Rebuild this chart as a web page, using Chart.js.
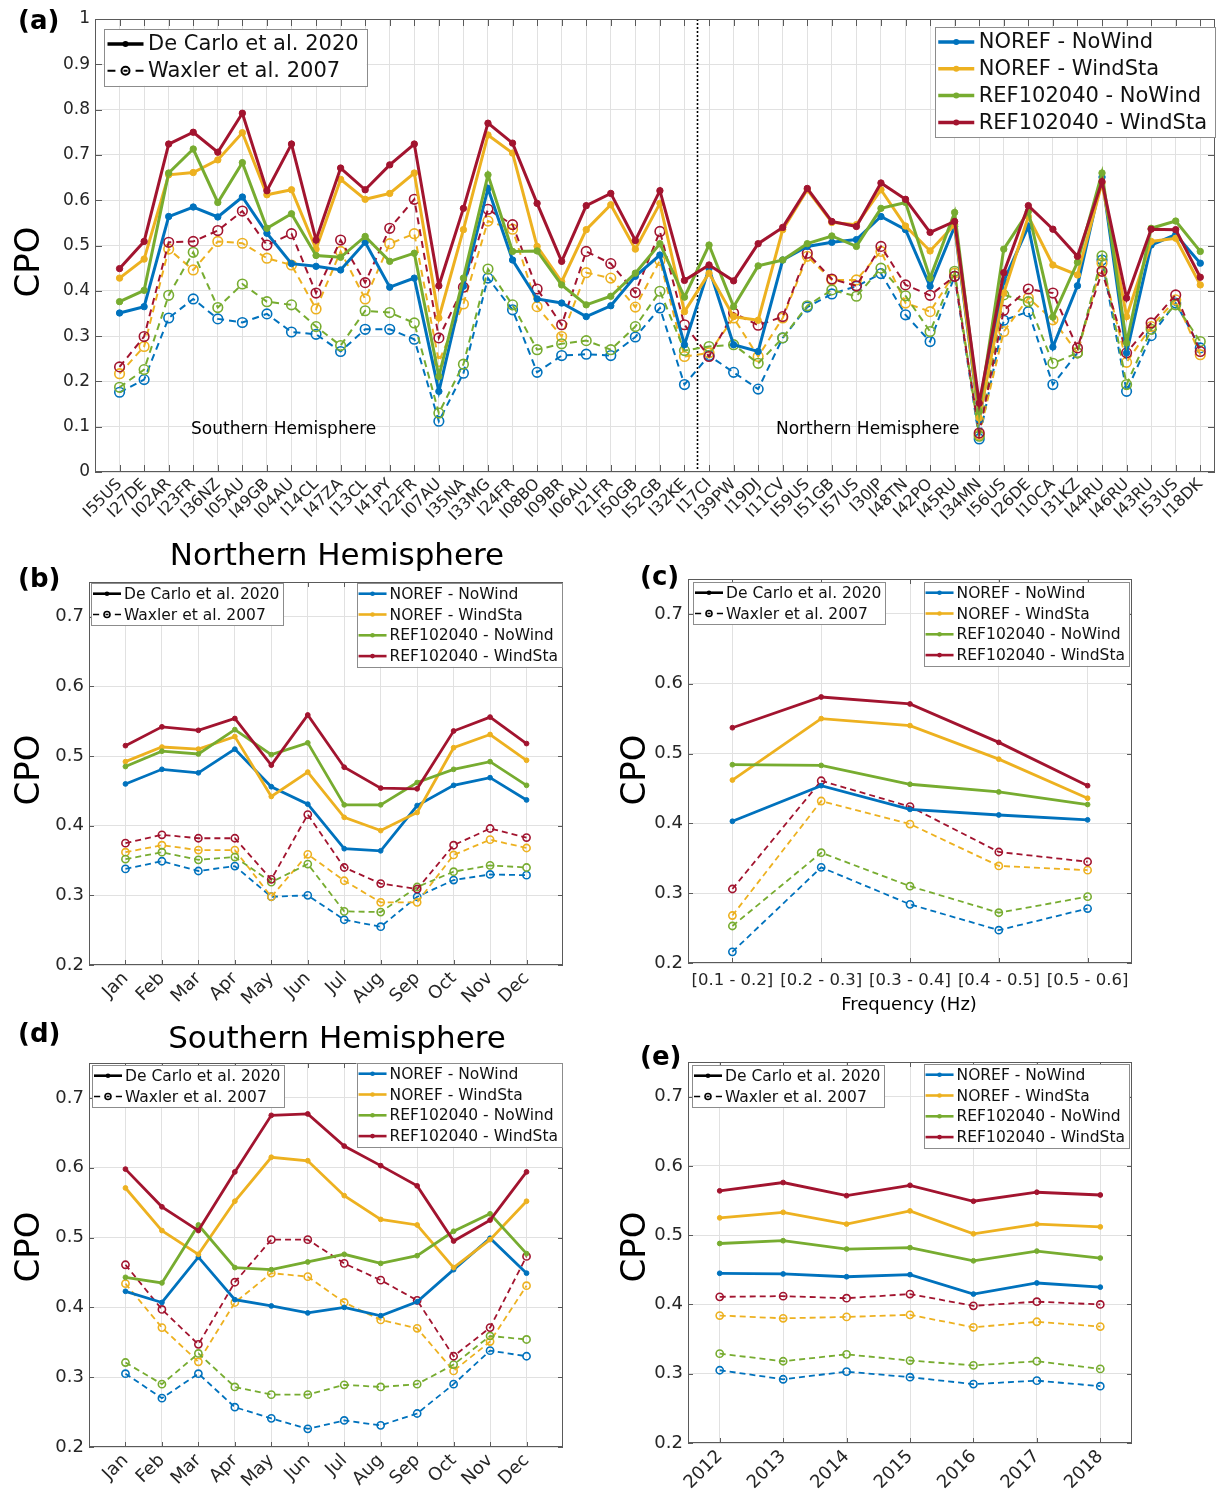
<!DOCTYPE html>
<html>
<head>
<meta charset="utf-8">
<title>CPO per station, month, frequency and year</title>
<script src="https://cdn.jsdelivr.net/npm/chart.js@4.4.1/dist/chart.umd.min.js"></script>
<style>
  html, body { margin: 0; padding: 0; background: #fff; }
  #page { position: relative; width: 1222px; height: 1495px; }
  canvas { position: absolute; }
</style>
</head>
<body>
<div id="page">
  <canvas id="pa" width="1222" height="535" style="left:0;top:0"></canvas>
  <canvas id="pb" width="600" height="485" style="left:0;top:535px"></canvas>
  <canvas id="pc" width="622" height="485" style="left:600px;top:535px"></canvas>
  <canvas id="pd" width="600" height="475" style="left:0;top:1020px"></canvas>
  <canvas id="pe" width="622" height="475" style="left:600px;top:1020px"></canvas>
</div>
<script>
// ---- data ----
const seriesNames = ['NOREF - NoWind', 'NOREF - WindSta', 'REF102040 - NoWind', 'REF102040 - WindSta'];
const refNames = ['De Carlo et al. 2020', 'Waxler et al. 2007'];

// (a) per station
const stations = ['I55US','I27DE','I02AR','I23FR','I36NZ','I05AU','I49GB','I04AU','I14CL','I47ZA','I13CL','I41PY','I22FR','I07AU','I35NA','I33MG','I24FR','I08BO','I09BR','I06AU','I21FR','I50GB','I52GB','I32KE','I17CI','I39PW','I19DJ','I11CV','I59US','I51GB','I57US','I30JP','I48TN','I42PO','I45RU','I34MN','I56US','I26DE','I10CA','I31KZ','I44RU','I46RU','I43RU','I53US','I18DK'];
const staNorefNoWind = [0.351,0.365,0.564,0.585,0.563,0.607,0.527,0.460,0.454,0.446,0.507,0.408,0.428,0.178,0.410,0.626,0.468,0.382,0.373,0.343,0.367,0.432,0.479,0.281,0.449,0.281,0.266,0.468,0.498,0.507,0.513,0.564,0.535,0.410,0.542,0.115,0.421,0.542,0.276,0.411,0.651,0.263,0.501,0.524,0.461];
const staNorefWindSta = [0.428,0.470,0.656,0.661,0.689,0.749,0.612,0.623,0.492,0.646,0.602,0.615,0.660,0.340,0.535,0.744,0.704,0.498,0.420,0.535,0.590,0.492,0.593,0.354,0.439,0.343,0.335,0.535,0.623,0.551,0.546,0.623,0.543,0.488,0.546,0.119,0.395,0.564,0.457,0.435,0.638,0.343,0.509,0.516,0.413];
const staRefNoWind = [0.376,0.401,0.660,0.713,0.595,0.683,0.538,0.570,0.478,0.474,0.520,0.465,0.483,0.211,0.428,0.656,0.487,0.488,0.413,0.369,0.388,0.439,0.504,0.386,0.501,0.365,0.455,0.468,0.504,0.521,0.498,0.582,0.595,0.428,0.573,0.134,0.492,0.575,0.342,0.463,0.660,0.285,0.538,0.554,0.487];
const staRefWindSta = [0.449,0.509,0.724,0.750,0.706,0.792,0.621,0.724,0.512,0.671,0.623,0.678,0.724,0.411,0.582,0.770,0.726,0.593,0.465,0.588,0.615,0.511,0.621,0.423,0.457,0.422,0.504,0.540,0.626,0.553,0.542,0.638,0.602,0.529,0.553,0.152,0.440,0.588,0.536,0.476,0.641,0.384,0.536,0.535,0.430];
const staWaxNorefNoWind = [0.176,0.204,0.340,0.382,0.338,0.330,0.349,0.309,0.304,0.266,0.315,0.315,0.293,0.112,0.218,0.428,0.358,0.220,0.257,0.260,0.257,0.298,0.362,0.193,0.257,0.220,0.183,0.296,0.364,0.393,0.410,0.438,0.347,0.288,0.432,0.073,0.335,0.354,0.193,0.263,0.468,0.178,0.301,0.373,0.274];
const staWaxNorefWindSta = [0.217,0.277,0.492,0.446,0.509,0.505,0.472,0.457,0.360,0.487,0.382,0.504,0.526,0.244,0.371,0.554,0.536,0.365,0.299,0.440,0.428,0.364,0.467,0.255,0.263,0.340,0.255,0.340,0.476,0.424,0.424,0.487,0.373,0.354,0.439,0.082,0.310,0.384,0.336,0.263,0.461,0.242,0.321,0.380,0.259];
const staWaxRefNoWind = [0.187,0.226,0.390,0.485,0.363,0.415,0.376,0.369,0.321,0.279,0.356,0.352,0.329,0.130,0.238,0.448,0.369,0.270,0.283,0.290,0.270,0.321,0.399,0.268,0.277,0.281,0.240,0.296,0.367,0.402,0.388,0.450,0.389,0.310,0.443,0.079,0.391,0.376,0.240,0.263,0.477,0.193,0.315,0.369,0.288];
const staWaxRefWindSta = [0.232,0.299,0.507,0.509,0.533,0.576,0.501,0.526,0.395,0.512,0.418,0.538,0.602,0.296,0.408,0.580,0.546,0.404,0.325,0.487,0.460,0.396,0.531,0.325,0.255,0.351,0.324,0.343,0.483,0.426,0.411,0.498,0.413,0.390,0.432,0.086,0.357,0.404,0.395,0.274,0.443,0.263,0.329,0.391,0.266];

// (b) Northern Hemisphere per month
const months = ['Jan','Feb','Mar','Apr','May','Jun','Jul','Aug','Sep','Oct','Nov','Dec'];
const nhNorefNoWind = [0.460,0.481,0.476,0.510,0.456,0.431,0.367,0.364,0.429,0.458,0.469,0.437];
const nhNorefWindSta = [0.492,0.513,0.510,0.528,0.442,0.477,0.412,0.393,0.419,0.512,0.531,0.494];
const nhRefNoWind = [0.485,0.507,0.503,0.538,0.502,0.519,0.430,0.430,0.462,0.481,0.492,0.458];
const nhRefWindSta = [0.515,0.542,0.537,0.554,0.487,0.559,0.484,0.454,0.453,0.536,0.556,0.518];
const nhWaxNorefNoWind = [0.338,0.349,0.335,0.342,0.298,0.300,0.265,0.255,0.298,0.322,0.330,0.329];
const nhWaxNorefWindSta = [0.362,0.372,0.365,0.365,0.298,0.359,0.321,0.290,0.290,0.358,0.380,0.368];
const nhWaxRefNoWind = [0.352,0.362,0.351,0.355,0.319,0.345,0.277,0.276,0.312,0.334,0.343,0.340];
const nhWaxRefWindSta = [0.375,0.387,0.382,0.382,0.323,0.416,0.340,0.317,0.309,0.372,0.396,0.383];

// (c) per frequency band
const freqBands = ['[0.1 - 0.2]','[0.2 - 0.3]','[0.3 - 0.4]','[0.4 - 0.5]','[0.5 - 0.6]'];
const fqNorefNoWind = [0.403,0.454,0.420,0.412,0.405];
const fqNorefWindSta = [0.462,0.550,0.540,0.492,0.436];
const fqRefNoWind = [0.484,0.483,0.456,0.445,0.427];
const fqRefWindSta = [0.537,0.581,0.571,0.516,0.454];
const fqWaxNorefNoWind = [0.216,0.337,0.284,0.247,0.278];
const fqWaxNorefWindSta = [0.268,0.432,0.399,0.339,0.333];
const fqWaxRefNoWind = [0.253,0.358,0.310,0.272,0.295];
const fqWaxRefWindSta = [0.306,0.461,0.424,0.359,0.345];

// (d) Southern Hemisphere per month
const shNorefNoWind = [0.423,0.407,0.472,0.411,0.402,0.392,0.400,0.388,0.408,0.454,0.499,0.449];
const shNorefWindSta = [0.571,0.510,0.476,0.552,0.615,0.610,0.560,0.526,0.518,0.457,0.497,0.552];
const shRefNoWind = [0.443,0.435,0.518,0.457,0.454,0.465,0.476,0.463,0.474,0.509,0.534,0.477];
const shRefWindSta = [0.598,0.544,0.510,0.594,0.675,0.677,0.631,0.603,0.574,0.495,0.525,0.594];
const shWaxNorefNoWind = [0.305,0.270,0.305,0.257,0.241,0.226,0.238,0.231,0.248,0.290,0.338,0.330];
const shWaxNorefWindSta = [0.434,0.371,0.322,0.407,0.449,0.444,0.407,0.382,0.370,0.309,0.351,0.431];
const shWaxRefNoWind = [0.321,0.290,0.334,0.286,0.275,0.275,0.289,0.286,0.290,0.318,0.359,0.354];
const shWaxRefWindSta = [0.461,0.397,0.347,0.436,0.497,0.497,0.463,0.439,0.410,0.330,0.371,0.473];

// (e) per year
const years = ['2012','2013','2014','2015','2016','2017','2018'];
const yrNorefNoWind = [0.445,0.444,0.440,0.443,0.415,0.431,0.425];
const yrNorefWindSta = [0.525,0.533,0.516,0.535,0.502,0.516,0.512];
const yrRefNoWind = [0.488,0.492,0.480,0.482,0.463,0.477,0.467];
const yrRefWindSta = [0.564,0.576,0.557,0.572,0.549,0.562,0.558];
const yrWaxNorefNoWind = [0.305,0.292,0.303,0.295,0.285,0.290,0.282];
const yrWaxNorefWindSta = [0.384,0.380,0.382,0.385,0.367,0.375,0.368];
const yrWaxRefNoWind = [0.329,0.318,0.328,0.319,0.312,0.318,0.307];
const yrWaxRefWindSta = [0.411,0.412,0.409,0.415,0.398,0.404,0.400];

// tick labels
const cpoTicksA = [0, 0.1, 0.2, 0.3, 0.4, 0.5, 0.6, 0.7, 0.8, 0.9, 1];
const cpoTicks = [0.2, 0.3, 0.4, 0.5, 0.6, 0.7];

// ---- styling ----
Chart.defaults.font.family = "'DejaVu Sans', sans-serif";
const colors = ['#0072BD', '#EDB120', '#77AC30', '#A2142F'];
const tickColor = '#262626';
const gridColor = '#e1e1e1';
const FONT = "'DejaVu Sans', sans-serif";

const styleA = { solidW: 3, dashW: 2, dotR: 3.2, circR: 4.8, dash: [7, 5] };
const styleB = { solidW: 2.8, dashW: 1.8, dotR: 2.4, circR: 3.6, dash: [6, 4] };

function lineSet(label, values, color, dashed, order, st, linearX) {
  return {
    label,
    data: linearX ? values.map((v, i) => ({ x: i + 1, y: v })) : values,
    borderColor: color,
    backgroundColor: color,
    borderWidth: dashed ? st.dashW : st.solidW,
    borderDash: dashed ? st.dash : [],
    pointRadius: dashed ? st.circR : st.dotR,
    pointBorderWidth: dashed ? 1.6 : 1,
    pointBorderColor: color,
    pointBackgroundColor: dashed ? 'rgba(0,0,0,0)' : color,
    tension: 0,
    fill: false,
    order
  };
}

function panelSets(solid, dashed, st, linearX) {
  const sets = [];
  dashed.forEach((v, k) => sets.push(lineSet(refNames[1] + ' ' + seriesNames[k], v, colors[k], true, 20 - k, st, linearX)));
  solid.forEach((v, k) => sets.push(lineSet(seriesNames[k], v, colors[k], false, 10 - k, st, linearX)));
  return sets;
}

function yScale(width, ticksArr, max, size) {
  return {
    min: ticksArr[0], max,
    afterBuildTicks: s => { s.ticks = ticksArr.map(v => ({ value: v })); },
    afterFit: s => { s.width = width; },
    ticks: { padding: 5, color: tickColor, font: { size }, callback: v => String(Number(v.toFixed(2))) },
    grid: { color: gridColor, drawTicks: false },
    border: { display: false }
  };
}

function xLinear(labels, max, height, size, rot) {
  return {
    type: 'linear', min: 0, max,
    afterBuildTicks: s => { s.ticks = labels.map((_, i) => ({ value: i + 1 })); },
    afterFit: s => { s.height = height; },
    ticks: { autoSkip: false, minRotation: rot, maxRotation: rot, padding: 3, color: tickColor, font: { size },
      callback: v => labels[Math.round(v) - 1] },
    grid: { color: gridColor, drawTicks: false },
    border: { display: false }
  };
}

function xCategory(height, size, rot, pad) {
  return {
    type: 'category', offset: true,
    afterFit: s => { s.height = height; },
    ticks: { autoSkip: false, minRotation: rot, maxRotation: rot, padding: pad, color: tickColor, font: { size } },
    grid: { color: gridColor, drawTicks: false, offset: false },
    border: { display: false }
  };
}

// legend layouts
const bigLegend = { font: '21px ' + FONT, first: 15, step: 26.8, lx0: 3.5, lx1: 39.5, tx: 44, pad: 8, lw: 3.5, dashW: 2, dotR: 3, circR: 4 };
const smallLegend = { font: '15.5px ' + FONT, first: 10.7, step: 20.8, lx0: 2, lx1: 30, tx: 33, pad: 4, lw: 2.6, dashW: 1.6, dotR: 2.3, circR: 3 };
const refEntries = [{ text: refNames[0], color: '#000' }, { text: refNames[1], color: '#000', dashed: true }];
const seriesEntries = seriesNames.map((t, k) => ({ text: t, color: colors[k] }));

function drawLegend(ctx, lg, st) {
  ctx.font = st.font;
  const textW = Math.max(...lg.entries.map(e => ctx.measureText(e.text).width));
  const w = st.tx + textW + st.pad;
  const h = st.first * 2 + st.step * (lg.entries.length - 1);
  const bx = lg.right !== undefined ? lg.right - w : lg.x;
  ctx.fillStyle = '#fff';
  ctx.fillRect(bx, lg.y, w, h);
  ctx.strokeStyle = '#8c8c8c';
  ctx.lineWidth = 1;
  ctx.setLineDash([]);
  ctx.strokeRect(Math.round(bx) + 0.5, Math.round(lg.y) + 0.5, Math.round(w), Math.round(h));
  lg.entries.forEach((e, i) => {
    const ry = lg.y + st.first + st.step * i;
    const x0 = bx + st.lx0, x1 = bx + st.lx1, xm = (x0 + x1) / 2;
    ctx.strokeStyle = e.color;
    ctx.fillStyle = e.color;
    if (e.dashed) {
      ctx.lineWidth = st.dashW;
      const seg = (x1 - x0) * 0.22;
      ctx.beginPath();
      ctx.moveTo(x0, ry); ctx.lineTo(x0 + seg, ry);
      ctx.moveTo(x1 - seg, ry); ctx.lineTo(x1, ry);
      ctx.moveTo(xm - st.circR * 0.5, ry); ctx.lineTo(xm + st.circR * 0.5, ry);
      ctx.stroke();
      ctx.beginPath(); ctx.arc(xm, ry, st.circR, 0, Math.PI * 2); ctx.stroke();
    } else {
      ctx.lineWidth = st.lw;
      ctx.beginPath(); ctx.moveTo(x0, ry); ctx.lineTo(x1, ry); ctx.stroke();
      ctx.beginPath(); ctx.arc(xm, ry, st.dotR, 0, Math.PI * 2); ctx.fill();
    }
    ctx.fillStyle = '#111';
    ctx.textAlign = 'left';
    ctx.textBaseline = 'middle';
    ctx.fillText(e.text, bx + st.tx, ry + 1);
  });
}

// per-canvas decorations: box, inner ticks, texts, legends
const decorSpecs = {};
const decor = {
  id: 'decor',
  beforeDatasetsDraw(chart) {
    const o = decorSpecs[chart.canvas.id];
    if (!o || o.divider === undefined) return;
    const { ctx, chartArea: a, scales: { x } } = chart;
    const px = Math.round(x.getPixelForValue(o.divider)) + 0.5;
    ctx.save();
    ctx.strokeStyle = '#000';
    ctx.lineWidth = 1.6;
    ctx.setLineDash([2, 2]);
    ctx.beginPath(); ctx.moveTo(px, a.top); ctx.lineTo(px, a.bottom); ctx.stroke();
    ctx.restore();
  },
  afterDraw(chart) {
    const o = decorSpecs[chart.canvas.id];
    if (!o) return;
    const { ctx, chartArea: a, scales: { x, y } } = chart;
    ctx.save();
    ctx.setLineDash([]);
    ctx.strokeStyle = '#5a5a5a';
    ctx.lineWidth = 1;
    ctx.strokeRect(Math.round(a.left) + 0.5, Math.round(a.top) + 0.5, Math.round(a.width) - 1, Math.round(a.height) - 1);
    const L = o.tickLen;
    ctx.beginPath();
    y.ticks.forEach(t => {
      const py = Math.round(y.getPixelForValue(t.value)) + 0.5;
      ctx.moveTo(a.left, py); ctx.lineTo(a.left + L, py);
      ctx.moveTo(a.right, py); ctx.lineTo(a.right - L, py);
    });
    x.ticks.forEach((t, i) => {
      const px = Math.round(x.getPixelForTick(i)) + 0.5;
      ctx.moveTo(px, a.top); ctx.lineTo(px, a.top + L);
      ctx.moveTo(px, a.bottom); ctx.lineTo(px, a.bottom - L);
    });
    ctx.stroke();
    (o.texts || []).forEach(t => {
      ctx.font = t.font;
      ctx.fillStyle = '#000';
      ctx.textAlign = t.align || 'left';
      ctx.textBaseline = 'middle';
      if (t.rotate) {
        ctx.save(); ctx.translate(t.x, t.y); ctx.rotate(t.rotate); ctx.fillText(t.text, 0, 0); ctx.restore();
      } else {
        ctx.fillText(t.text, t.x, t.y);
      }
    });
    (o.legends || []).forEach(lg => drawLegend(ctx, lg, o.legendStyle));
    ctx.restore();
  }
};

function makeChart(id, p) {
  return new Chart(document.getElementById(id), {
    type: 'line',
    data: { labels: p.labels, datasets: p.datasets },
    options: {
      responsive: false,
      animation: false,
      events: [],
      layout: { padding: { top: p.top, right: p.right, left: 0, bottom: 0 } },
      plugins: { legend: { display: false }, tooltip: { enabled: false } },
      scales: { x: p.x, y: p.y }
    },
    plugins: [decor]
  });
}

const cpoLabel = (x, y) => ({ text: 'CPO', x, y, rotate: -Math.PI / 2, align: 'center', font: '34px ' + FONT });
const panelTag = (t, x, y) => ({ text: t, x, y, font: 'bold 26px ' + FONT });

// (a)
decorSpecs.pa = {
  tickLen: 7, divider: 24.5, legendStyle: bigLegend,
  texts: [
    panelTag('(a)', 18, 22), cpoLabel(30, 262),
    { text: 'Southern Hemisphere', x: 191, y: 430, font: '17px ' + FONT },
    { text: 'Northern Hemisphere', x: 776, y: 430, font: '17px ' + FONT }
  ],
  legends: [{ x: 104, y: 29, entries: refEntries }, { right: 1215, y: 27, entries: seriesEntries }]
};
makeChart('pa', {
  top: 19, right: 7,
  datasets: panelSets([staNorefNoWind, staNorefWindSta, staRefNoWind, staRefWindSta],
    [staWaxNorefNoWind, staWaxNorefWindSta, staWaxRefNoWind, staWaxRefWindSta], styleA, true),
  x: xLinear(stations, 45.6, 63, 16, 45),
  y: yScale(95, cpoTicksA, 1, 17)
});

// (b)
decorSpecs.pb = {
  tickLen: 5, legendStyle: smallLegend,
  texts: [
    panelTag('(b)', 18, 45), cpoLabel(30, 235),
    { text: 'Northern Hemisphere', x: 337, y: 22, align: 'center', font: '31px ' + FONT }
  ],
  legends: [{ x: 91, y: 48, entries: refEntries }, { right: 562, y: 48, entries: seriesEntries }]
};
makeChart('pb', {
  top: 47, right: 37,
  datasets: panelSets([nhNorefNoWind, nhNorefWindSta, nhRefNoWind, nhRefWindSta],
    [nhWaxNorefNoWind, nhWaxNorefWindSta, nhWaxRefNoWind, nhWaxRefWindSta], styleB, true),
  x: xLinear(months, 13, 55, 18, 45),
  y: yScale(89, cpoTicks, 0.75, 18)
});

// (c)
decorSpecs.pc = {
  tickLen: 5, legendStyle: smallLegend,
  texts: [
    panelTag('(c)', 40, 43), cpoLabel(36, 235),
    { text: 'Frequency (Hz)', x: 309, y: 470, align: 'center', font: '18px ' + FONT }
  ],
  legends: [{ x: 93, y: 47, entries: refEntries }, { right: 529, y: 47, entries: seriesEntries }]
};
makeChart('pc', {
  top: 44, right: 90, labels: freqBands,
  datasets: panelSets([fqNorefNoWind, fqNorefWindSta, fqRefNoWind, fqRefWindSta],
    [fqWaxNorefNoWind, fqWaxNorefWindSta, fqWaxRefNoWind, fqWaxRefWindSta], styleB, false),
  x: xCategory(57, 16.5, 0, 8),
  y: yScale(88, cpoTicks, 0.75, 18)
});

// (d)
decorSpecs.pd = {
  tickLen: 5, legendStyle: smallLegend,
  texts: [
    panelTag('(d)', 18, 15), cpoLabel(30, 227),
    { text: 'Southern Hemisphere', x: 337, y: 20, align: 'center', font: '31px ' + FONT }
  ],
  legends: [{ x: 92, y: 45, entries: refEntries }, { right: 562, y: 43, entries: seriesEntries }]
};
makeChart('pd', {
  top: 43, right: 37,
  datasets: panelSets([shNorefNoWind, shNorefWindSta, shRefNoWind, shRefWindSta],
    [shWaxNorefNoWind, shWaxNorefWindSta, shWaxRefNoWind, shWaxRefWindSta], styleB, true),
  x: xLinear(months, 13, 48, 18, 45),
  y: yScale(89, cpoTicks, 0.75, 18)
});

// (e)
decorSpecs.pe = {
  tickLen: 5, legendStyle: smallLegend,
  texts: [panelTag('(e)', 40, 38), cpoLabel(36, 227)],
  legends: [{ x: 92, y: 45, entries: refEntries }, { right: 529, y: 44, entries: seriesEntries }]
};
makeChart('pe', {
  top: 42, right: 90, labels: years,
  datasets: panelSets([yrNorefNoWind, yrNorefWindSta, yrRefNoWind, yrRefWindSta],
    [yrWaxNorefNoWind, yrWaxNorefWindSta, yrWaxRefNoWind, yrWaxRefWindSta], styleB, false),
  x: xCategory(52, 18, 45, 3),
  y: yScale(88, cpoTicks, 0.75, 18)
});
</script>
</body>
</html>
